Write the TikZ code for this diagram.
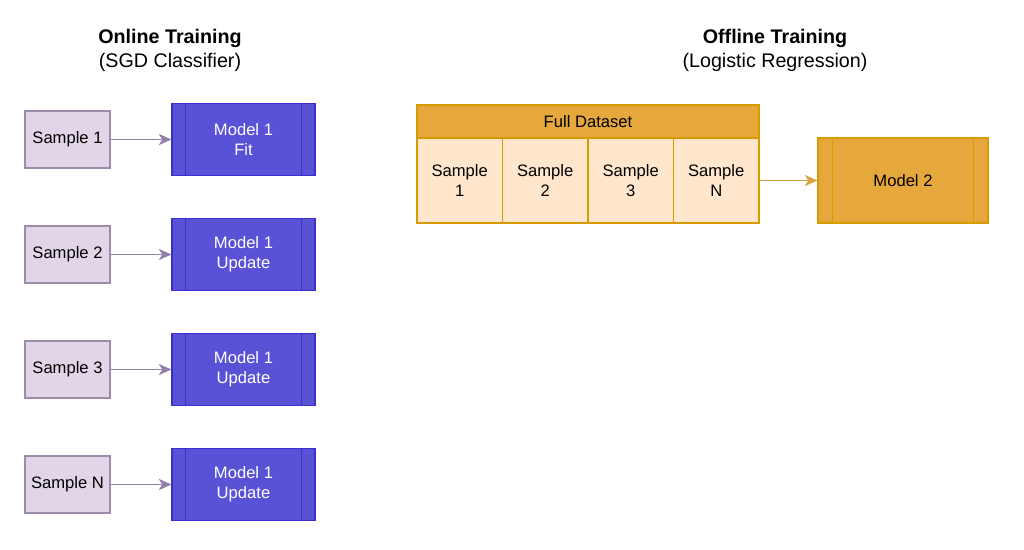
\documentclass[tikz,border=0pt]{standalone}
\usepackage{fontspec}
\setmainfont{Liberation Sans}
\usetikzlibrary{arrows.meta}
\definecolor{smpfill}{HTML}{E1D5E7}
\definecolor{smpline}{HTML}{9A8CAA}
\definecolor{smparrow}{HTML}{9080A8}
\definecolor{mdlfill}{HTML}{5952D6}
\definecolor{mdlline}{HTML}{3A2FCF}
\definecolor{orgfill}{HTML}{E6A73D}
\definecolor{orgline}{HTML}{D79B00}
\definecolor{cellfill}{HTML}{FFE6CC}
\definecolor{orgarrow}{HTML}{D8A440}
\begin{document}
\begin{tikzpicture}[x=0.025cm,y=-0.025cm,
  txt/.style={font=\fontsize{11.8}{14.2}\selectfont,align=center,inner sep=0pt},
  title/.style={font=\fontsize{14}{17}\selectfont,align=center},
  sample/.style={txt,draw=smpline,fill=smpfill,line width=0.8pt,minimum width=2.125cm,minimum height=1.425cm},
  model/.style={txt,draw=mdlline,fill=mdlfill,text=white,line width=0.8pt,minimum width=3.575cm,minimum height=1.8cm},
  cell/.style={txt,draw=orgline,fill=cellfill,line width=0.8pt,minimum width=2.1375cm,minimum height=2.125cm},
  link/.style={line width=0.8pt,-{Stealth[length=9pt,width=8pt,inset=2.5pt]}}]
\useasboundingbox (0,0) rectangle (1024,549);
% online training
\node[title] (ontitle) at (170,50) {\textbf{Online Training}\\(SGD Classifier)};
\foreach \i/\lbl/\act in {1/1/Fit,2/2/Update,3/3/Update,4/N/Update}{
  \node[sample] (s\i) at (67.5,139.5+115*\i-115) {Sample \lbl};
  \node[model] (m\i) at (243.5,139.5+115*\i-115) {Model 1\\\act};
  \draw[mdlline,line width=0.8pt] ([xshift=0.35cm]m\i.north west) -- ([xshift=0.35cm]m\i.south west)
    ([xshift=-0.35cm]m\i.north east) -- ([xshift=-0.35cm]m\i.south east);
  \draw[link,smparrow] (s\i) -- (m\i);
}
% offline training
\node[title] (offtitle) at (775,50) {\textbf{Offline Training}\\(Logistic Regression)};
\node[txt,draw=orgline,fill=orgfill,line width=0.8pt,minimum width=8.55cm,minimum height=0.825cm] (hdr) at (588,121.5) {Full Dataset};
\foreach \i/\lbl in {1/1,2/2,3/3,4/N}
  \node[cell] (c\i) at (374.25+85.5*\i,180.5) {Sample\\\lbl};
\node[txt,draw=orgline,fill=orgfill,line width=0.8pt,minimum width=4.25cm,minimum height=2.125cm] (m5) at (903,180.5) {Model 2};
\draw[orgline,line width=0.8pt] ([xshift=0.375cm]m5.north west) -- ([xshift=0.375cm]m5.south west)
  ([xshift=-0.375cm]m5.north east) -- ([xshift=-0.375cm]m5.south east);
\draw[link,orgarrow] (c4) -- (m5);
\end{tikzpicture}
\end{document}
